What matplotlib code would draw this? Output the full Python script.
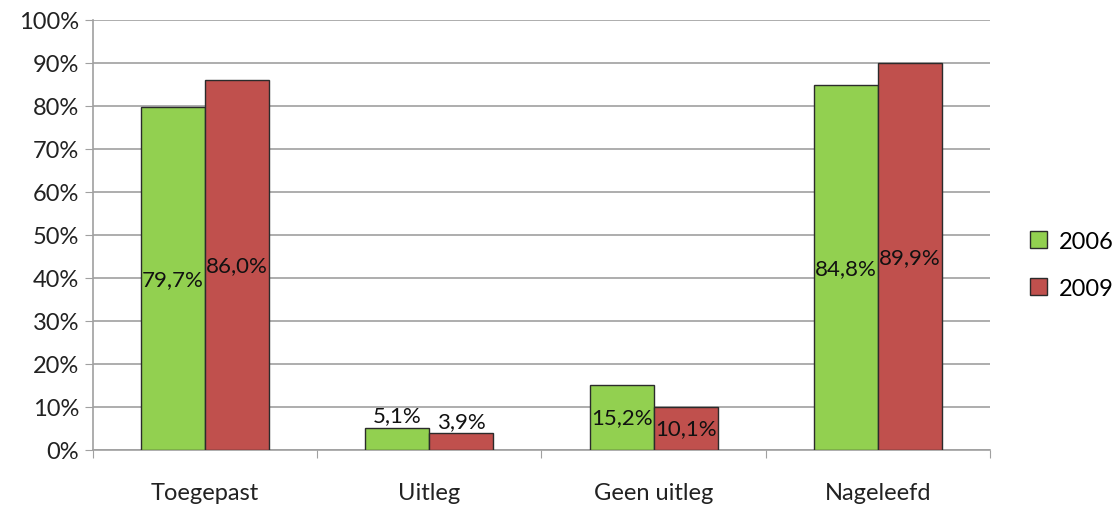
import matplotlib.pyplot as plt
import numpy as np
from matplotlib.patches import Patch

plt.rcParams['font.family'] = ['Lato', 'DejaVu Sans']

categories = ['Toegepast', 'Uitleg', 'Geen uitleg', 'Nageleefd']
years = ['2006', '2009']
vals_2006 = [79.7, 5.1, 15.2, 84.8]
vals_2009 = [86.0, 3.9, 10.1, 89.9]
colors = ['#92D050', '#C0504D']

fig = plt.figure(figsize=(11.15, 5.06), dpi=100)
ax = fig.add_axes([0.0834, 0.1087, 0.8045, 0.8498])

x = np.arange(len(categories))
w = 0.285
for i, (vals, c) in enumerate(zip([vals_2006, vals_2009], colors)):
    pos = x + (i - 0.5) * w
    ax.bar(pos, vals, width=w, color=c, edgecolor='#2b2b2b', linewidth=1.0, zorder=3)
    for p, v in zip(pos, vals):
        txt = f'{v:.1f}%'.replace('.', ',')
        if v < 8:
            ax.text(p, v + 0.6, txt, ha='center', va='bottom', fontsize=16, color='#111111', zorder=4)
        else:
            ax.text(p, v / 2, txt, ha='center', va='center', fontsize=16, color='#111111', zorder=4)

ax.set_xlim(-0.5, 3.5)
ax.set_ylim(0, 100)
ax.set_yticks(np.arange(0, 101, 10))
ax.set_yticklabels([f'{t}%' for t in range(0, 101, 10)], fontsize=17, color='#222222')
ax.yaxis.grid(True, color='#a0a0a0', linewidth=1.2, zorder=0)
ax.tick_params(axis='y', length=6, color='#a0a0a0', pad=4)

ax.set_xticks(np.arange(-0.5, 4, 1))
ax.set_xticklabels([])
ax.set_xticks(x, minor=True)
ax.set_xticklabels(categories, minor=True, fontsize=17, color='#222222')
ax.tick_params(axis='x', which='major', length=6, color='#a0a0a0', direction='out')
ax.tick_params(axis='x', which='minor', length=0, pad=23)

for s in ['top', 'right']:
    ax.spines[s].set_visible(False)
for s in ['left', 'bottom']:
    ax.spines[s].set_color('#a0a0a0')
    ax.spines[s].set_linewidth(1.2)

handles = [Patch(facecolor=c, edgecolor='#2b2b2b', label=y) for c, y in zip(colors, years)]
fig.legend(handles=handles, loc='center left', bbox_to_anchor=(0.924, 0.475), frameon=False,
           borderpad=0, borderaxespad=0,
           fontsize=17, handlelength=0.7, handleheight=0.7, labelspacing=1.1, handletextpad=0.5)

fig.savefig('out.png', dpi=100)
